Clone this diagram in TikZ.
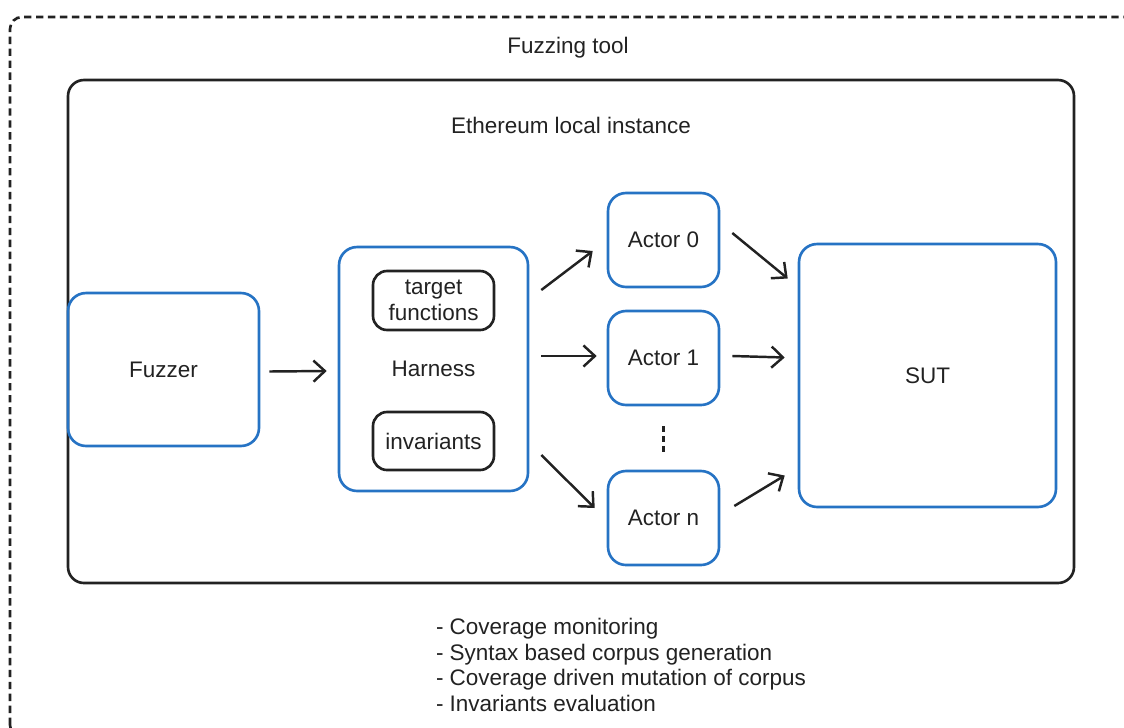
\documentclass[tikz,border=0pt]{standalone}
\usepackage{fontspec}
\setmainfont{Liberation Sans}
\usetikzlibrary{arrows.meta}

\definecolor{boxblue}{RGB}{38,115,196}
\definecolor{txt}{RGB}{34,34,34}

\tikzset{
  blubox/.style={draw=boxblue,line width=1.5pt,rounded corners=0.36cm,align=center,text=txt},
  blkbox/.style={draw=txt,line width=1.5pt,rounded corners=0.28cm,align=center,text=txt},
  arr/.style={draw=txt,line width=1.4pt,-{Straight Barb[length=6.5pt,width=12pt,line width=1.4pt]}}
}

\begin{document}
\begin{tikzpicture}[x=0.02cm,y=-0.02cm,font=\fontsize{12.8}{14.5}\selectfont]
        \useasboundingbox (0,0) rectangle (1124,727);
        % outer dashed frame, cut by the page
        \begin{scope}
          \clip (0,0) rectangle (1124,727);
          \draw[txt,line width=1.5pt,dash pattern=on 4.2pt off 2.6pt,rounded corners=0.24cm] (10,737) rectangle (1136,17);
        \end{scope}
        \node[text=txt] (tool) at (568,48) {Fuzzing tool};
        % local chain
        \draw[txt,line width=1.5pt,rounded corners=0.32cm] (68,80) rectangle (1074,583);
        \node[text=txt] (chain) at (571,125) {Ethereum local instance};

        \node[blubox,minimum width=3.82cm,minimum height=3.06cm] (fuzzer) at (163.5,369.5) {Fuzzer};
        \node[blubox,minimum width=3.78cm,minimum height=4.88cm] (harness) at (433.5,369) {Harness};
        \node[blkbox,minimum width=2.42cm,minimum height=1.18cm] (targets) at (433.5,300.5) {target\\functions};
        \node[blkbox,minimum width=2.42cm,minimum height=1.16cm] (invars) at (433.5,441) {invariants};

        \node[blubox,minimum width=2.22cm,minimum height=1.88cm] (actor0) at (663.5,240) {Actor 0};
        \node[blubox,minimum width=2.22cm,minimum height=1.88cm] (actor1) at (663.5,358) {Actor 1};
        \node[blubox,minimum width=2.22cm,minimum height=1.88cm] (actorn) at (663.5,518) {Actor n};
        \draw[txt,line width=1.6pt,dash pattern=on 3.4pt off 2.2pt] ([yshift=-0.4cm]actor1.south) -- ([yshift=0.3cm]actorn.north);

        \node[blubox,minimum width=5.14cm,minimum height=5.26cm] (sut) at (927.5,375.5) {SUT};

        % calls
        \draw[arr] ([shift={(9,2)}]fuzzer.east) -- ([shift={(-11,2)}]harness.west);
        \draw[arr] ([shift={(12,-79)}]harness.east) -- ([shift={(-14,11)}]actor0.west);
        \draw[arr] ([shift={(12,-13)}]harness.east) -- ([shift={(-10,-2)}]actor1.west);
        \draw[arr] ([shift={(12,86)}]harness.east) -- ([shift={(-12,-10)}]actorn.west);
        \draw[arr] ([shift={(12,-7)}]actor0.east) -- ([shift={(-10,-97)}]sut.west);
        \draw[arr] ([shift={(12,-2)}]actor1.east) -- ([shift={(-13,-18)}]sut.west);
        \draw[arr] ([shift={(14,-12)}]actorn.east) -- ([shift={(-13,100)}]sut.west);

        \node[text=txt,align=left] (features) at (621,665) {- Coverage monitoring\\- Syntax based corpus generation\\- Coverage driven mutation of corpus\\- Invariants evaluation};
\end{tikzpicture}
\end{document}
